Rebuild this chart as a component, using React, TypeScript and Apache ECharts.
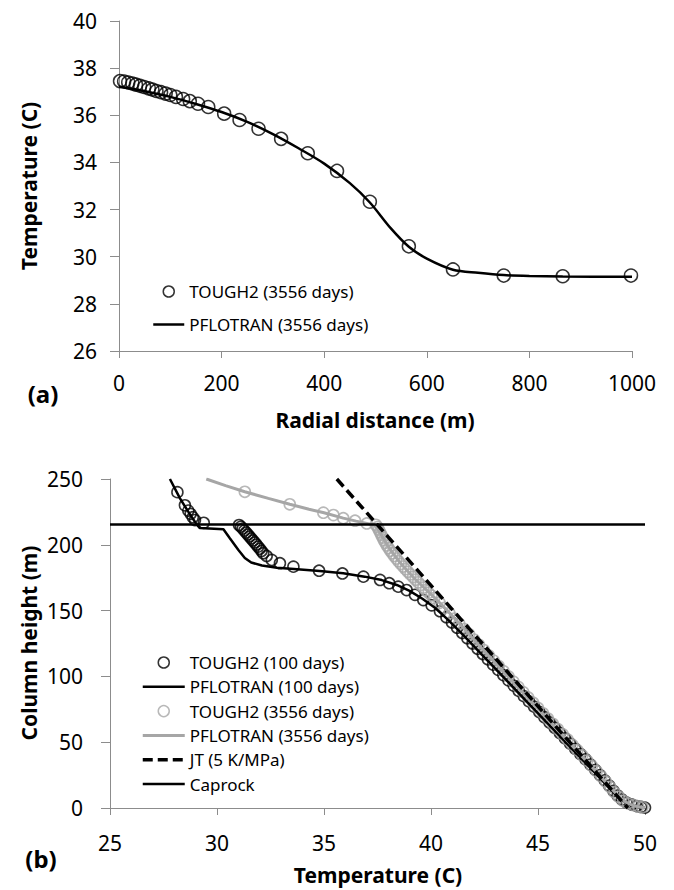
import React, { useEffect, useRef } from "react";
import * as echarts from "echarts";

// ---------- Panel (a): radial temperature profile ----------
const radialTough = [2, 10, 18, 26, 33, 41, 49, 58, 65, 73, 82, 91, 100, 111, 125, 138, 154, 174, 205, 235, 272, 316, 368, 425, 489, 565, 651, 750, 865, 998];
const tempTough = [37.45, 37.43, 37.39, 37.35, 37.3, 37.25, 37.2, 37.14, 37.09, 37.03, 36.98, 36.92, 36.86, 36.78, 36.69, 36.6, 36.49, 36.35, 36.07, 35.8, 35.43, 35.0, 34.39, 33.64, 32.33, 30.44, 29.46, 29.2, 29.17, 29.2];
const radialPflo = [0, 50, 100, 150, 200, 250, 300, 350, 400, 450, 489, 530, 565, 600, 651, 700, 750, 800, 865, 1000];
const tempPflo = [37.22, 37.02, 36.78, 36.48, 36.14, 35.72, 35.2, 34.6, 33.95, 33.12, 32.3, 31.2, 30.42, 29.92, 29.45, 29.32, 29.22, 29.18, 29.16, 29.15];

// ---------- Panel (b): column temperature profiles, [temperature, height] ----------
const tough100 = [
  [28.15, 240], [28.5, 230], [28.66, 226], [28.77, 223.5], [28.87, 221], [28.97, 218.8], [29.38, 216.7],
  [31.03, 215], [31.12, 213.8], [31.2, 212.3], [31.28, 210.8], [31.36, 209.3], [31.44, 207.8], [31.52, 206.3],
  [31.6, 204.8], [31.68, 203.3], [31.76, 201.8], [31.84, 200.2], [31.92, 198.6], [32.0, 197], [32.08, 195.3],
  [32.16, 193.6], [32.32, 191.5], [32.56, 188.5], [32.94, 186], [33.57, 183.4], [34.77, 180.3], [35.86, 178.2],
  [36.84, 175.8], [37.62, 173.3], [38.05, 170.8], [38.47, 168.2], [38.86, 165.6], [39.25, 162], [39.64, 158],
  [40.03, 154], [40.42, 149.5], [40.72, 145], [40.98, 141], [41.22, 137], [41.46, 133], [41.7, 129], [41.94, 125],
  [42.18, 121], [42.42, 117], [42.66, 113], [42.9, 109], [43.14, 105], [43.38, 101], [43.62, 97], [43.86, 93],
  [44.1, 89], [44.34, 85], [44.58, 81], [44.82, 77], [45.06, 73], [45.3, 69], [45.54, 65], [45.78, 61], [46.02, 57],
  [46.26, 53], [46.5, 49], [46.74, 45], [46.98, 41], [47.22, 37], [47.45, 33], [47.68, 29], [47.9, 25], [48.12, 21],
  [48.33, 17], [48.53, 13], [48.72, 9.5], [48.92, 6.5], [49.15, 4], [49.4, 2.5], [49.62, 1.5], [49.82, 0.8], [50.0, 0.3],
];
const pflo100 = [
  [27.8, 250], [28.27, 235.3], [28.7, 224], [29.05, 215.5], [29.2, 212.7], [30.3, 211.8], [30.6, 205], [31.0, 196],
  [31.3, 190], [31.6, 186.5], [32.1, 184.3], [32.8, 182.6], [33.6, 181.6], [34.8, 180.1], [35.9, 178.3], [36.9, 175.8],
  [37.7, 173.2], [38.4, 169.5], [39.0, 165], [39.6, 159], [40.2, 152], [40.8, 143], [41.5, 131.5], [42.5, 114.5],
  [43.5, 97.5], [44.5, 80.5], [45.5, 63.5], [46.5, 46.5], [47.5, 29.5], [48.2, 17.5], [48.7, 9], [49.2, 3], [49.6, 1], [50.0, 0],
];
const tough3556 = [
  [31.3, 240.3], [33.4, 230.8], [34.97, 224.4], [35.44, 222.6], [35.9, 220.2], [36.45, 218.3], [37.0, 216.2],
  [37.42, 215.2], [37.5, 213.5], [37.56, 211.5], [37.62, 209.5], [37.68, 207.5], [37.74, 205.5], [37.8, 203.5],
  [37.87, 201.5], [37.94, 199.5], [38.02, 197.5], [38.1, 195.5], [38.19, 193.5], [38.28, 191.5], [38.38, 189.5],
  [38.48, 187.5], [38.59, 185.5], [38.7, 183.5], [38.81, 181.5], [38.92, 179.5], [39.04, 177.5], [39.16, 175.5],
  [39.28, 173.5], [39.4, 171.5], [39.52, 169.5], [39.64, 167.5], [39.76, 165.5], [39.89, 163.5], [40.02, 161.5],
  [40.15, 159.5], [40.4, 156], [40.63, 152], [40.86, 148], [41.09, 144], [41.32, 140], [41.55, 136], [41.78, 132],
  [42.01, 128], [42.24, 124], [42.47, 120], [42.7, 116], [42.93, 112], [43.16, 108], [43.39, 104], [43.62, 100],
  [43.85, 96], [44.08, 92], [44.31, 88], [44.54, 84], [44.77, 80], [45.0, 76], [45.23, 72], [45.46, 68], [45.69, 64],
  [45.92, 60], [46.15, 56], [46.38, 52], [46.61, 48], [46.84, 44], [47.07, 40], [47.3, 36], [47.52, 32], [47.74, 28],
  [47.96, 24], [48.17, 20], [48.37, 16], [48.57, 12], [48.77, 8.5], [48.98, 5.5], [49.2, 3.5], [49.45, 2.2],
  [49.68, 1.2], [49.88, 0.6], [50.05, 0.2],
];
const pflo3556 = [
  [29.5, 250], [30.4, 245], [31.3, 240.3], [32.4, 235.3], [33.4, 230.8], [34.3, 227], [35.0, 224.3], [35.9, 220.3],
  [36.5, 218], [37.0, 216.3], [37.35, 215], [37.5, 212.5], [37.62, 209], [37.75, 205.5], [37.95, 200], [38.2, 194],
  [38.5, 187.5], [38.85, 181], [39.25, 174], [39.7, 167], [40.15, 160], [40.65, 152], [41.5, 137], [42.5, 119],
  [43.5, 101.5], [44.5, 84], [45.5, 66.5], [46.5, 49], [47.5, 31.5], [48.2, 19], [48.7, 10], [49.1, 4.5], [49.5, 1.5], [50.0, 0],
];
const jtLine = [[35.6, 250], [49.2, 0]];
const caprock = [[25, 215.5], [50, 215.5]];

const FONT = "'Noto Sans', sans-serif";
const AXIS_GRAY = "#8c8c8c";
const GRAY = "#a6a6a6";

function valueAxis(gridIndex: number, min: number, max: number, interval: number, margin: number, tickLen: number) {
  return {
    type: "value" as const,
    gridIndex,
    min,
    max,
    interval,
    splitLine: { show: false },
    axisLine: { show: true, onZero: false, lineStyle: { color: AXIS_GRAY, width: 1 } },
    axisTick: { show: true, length: tickLen, lineStyle: { color: AXIS_GRAY, width: 1 } },
    axisLabel: { fontSize: 21, color: "#000", fontFamily: FONT, margin, formatter: (v: number) => String(v) },
  };
}

const circleStyle = (c: string, w: number) => ({ color: "transparent", borderColor: c, borderWidth: w });
const noSymbol = { color: "transparent", borderColor: "transparent", borderWidth: 0, opacity: 0 };

function buildOption() {
  return {
    animation: false,
    backgroundColor: "#fff",
    grid: [
      { left: 119, right: 42, top: 21, height: 330 },
      { left: 110, right: 29, top: 479, height: 329 },
    ],
    xAxis: [valueAxis(0, 0, 1000, 200, 21, 7), valueAxis(1, 25, 50, 5, 24, 7)],
    yAxis: [valueAxis(0, 26, 40, 2, 22, 9), valueAxis(1, 0, 250, 50, 27, 9)],
    legend: [
      {
        left: 147,
        top: 278,
        orient: "vertical",
        itemWidth: 31,
        itemHeight: 11,
        itemGap: 16,
        selectedMode: false,
        textStyle: { fontSize: 17, fontFamily: FONT, color: "#000" },
        data: [
          { name: "TOUGH2 (3556 days)", icon: "circle", itemStyle: circleStyle("#000", 1.5) },
          { name: "PFLOTRAN (3556 days)", lineStyle: { color: "#000", width: 2.5 }, itemStyle: noSymbol },
        ],
      },
      {
        left: 136,
        top: 649,
        orient: "vertical",
        itemWidth: 42,
        itemHeight: 11,
        itemGap: 7.3,
        selectedMode: false,
        textStyle: { fontSize: 17, fontFamily: FONT, color: "#000" },
        data: [
          { name: "TOUGH2 (100 days)", icon: "circle", itemStyle: circleStyle("#000", 1.5) },
          { name: "PFLOTRAN (100 days)", lineStyle: { color: "#000", width: 2.5 }, itemStyle: noSymbol },
          { name: "TOUGH2 (3556 days)", icon: "circle", itemStyle: circleStyle(GRAY, 1.5) },
          { name: "PFLOTRAN (3556 days)", lineStyle: { color: GRAY, width: 3 }, itemStyle: noSymbol },
          { name: "JT (5 K/MPa)", lineStyle: { color: "#000", width: 3.5, type: [10, 5] }, itemStyle: noSymbol },
          { name: "Caprock", lineStyle: { color: "#000", width: 2.5 }, itemStyle: noSymbol },
        ],
      },
    ],
    series: [
      {
        type: "scatter",
        name: "TOUGH2 (3556 days)",
        xAxisIndex: 0,
        yAxisIndex: 0,
        data: radialTough.map((r, i) => [r, tempTough[i]]),
        symbol: "circle",
        symbolSize: 13,
        itemStyle: circleStyle("#000", 1.5),
        silent: true,
      },
      {
        type: "line",
        name: "PFLOTRAN (3556 days)",
        xAxisIndex: 0,
        yAxisIndex: 0,
        data: radialPflo.map((r, i) => [r, tempPflo[i]]),
        symbol: "none",
        showSymbol: false,
        smooth: 0.3,
        lineStyle: { color: "#000", width: 2.5 },
        itemStyle: { color: "#000" },
        silent: true,
      },
      {
        type: "scatter",
        name: "TOUGH2 (100 days)",
        xAxisIndex: 1,
        yAxisIndex: 1,
        data: tough100,
        symbol: "circle",
        symbolSize: 11,
        itemStyle: circleStyle("#000", 1.6),
        silent: true,
      },
      {
        type: "line",
        name: "PFLOTRAN (100 days)",
        xAxisIndex: 1,
        yAxisIndex: 1,
        data: pflo100,
        symbol: "none",
        showSymbol: false,
        lineStyle: { color: "#000", width: 2.5 },
        itemStyle: { color: "#000" },
        silent: true,
      },
      {
        type: "scatter",
        name: "TOUGH2 (3556 days)",
        xAxisIndex: 1,
        yAxisIndex: 1,
        data: tough3556,
        symbol: "circle",
        symbolSize: 11,
        itemStyle: circleStyle(GRAY, 1.6),
        silent: true,
      },
      {
        type: "line",
        name: "PFLOTRAN (3556 days)",
        xAxisIndex: 1,
        yAxisIndex: 1,
        data: pflo3556,
        symbol: "none",
        showSymbol: false,
        lineStyle: { color: GRAY, width: 3 },
        itemStyle: { color: GRAY },
        silent: true,
      },
      {
        type: "line",
        name: "JT (5 K/MPa)",
        xAxisIndex: 1,
        yAxisIndex: 1,
        data: jtLine,
        symbol: "none",
        showSymbol: false,
        lineStyle: { color: "#000", width: 3.5, type: [10, 5] },
        itemStyle: { color: "#000" },
        silent: true,
      },
      {
        type: "line",
        name: "Caprock",
        xAxisIndex: 1,
        yAxisIndex: 1,
        data: caprock,
        symbol: "none",
        showSymbol: false,
        lineStyle: { color: "#000", width: 2.5 },
        itemStyle: { color: "#000" },
        silent: true,
      },
    ],
    graphic: [
      {
        type: "text",
        x: 29,
        y: 186,
        rotation: Math.PI / 2,
        style: { text: "Temperature (C)", fontSize: 21, fontWeight: "bold", fontFamily: FONT, fill: "#000", textAlign: "center", textVerticalAlign: "middle" },
      },
      {
        type: "text",
        x: 375,
        y: 420,
        style: { text: "Radial distance (m)", fontSize: 21, fontWeight: "bold", fontFamily: FONT, fill: "#000", textAlign: "center", textVerticalAlign: "middle" },
      },
      {
        type: "text",
        x: 43,
        y: 393,
        style: { text: "(a)", fontSize: 24, fontWeight: "bold", fontFamily: FONT, fill: "#000", textAlign: "center", textVerticalAlign: "middle" },
      },
      {
        type: "text",
        x: 29,
        y: 643,
        rotation: Math.PI / 2,
        style: { text: "Column height (m)", fontSize: 21, fontWeight: "bold", fontFamily: FONT, fill: "#000", textAlign: "center", textVerticalAlign: "middle" },
      },
      {
        type: "text",
        x: 378,
        y: 875,
        style: { text: "Temperature (C)", fontSize: 21, fontWeight: "bold", fontFamily: FONT, fill: "#000", textAlign: "center", textVerticalAlign: "middle" },
      },
      {
        type: "text",
        x: 41,
        y: 858,
        style: { text: "(b)", fontSize: 24, fontWeight: "bold", fontFamily: FONT, fill: "#000", textAlign: "center", textVerticalAlign: "middle" },
      },
    ],
  };
}

export default function App() {
  const ref = useRef<HTMLDivElement>(null);
  useEffect(() => {
    if (!ref.current) return;
    const chart = echarts.init(ref.current, null, { renderer: "svg" });
    chart.setOption(buildOption() as any);
    return () => chart.dispose();
  }, []);
  return (
    <div
      ref={ref}
      style={{ position: "fixed", left: 0, top: 0, width: 674, height: 890, background: "#fff" }}
    />
  );
}
